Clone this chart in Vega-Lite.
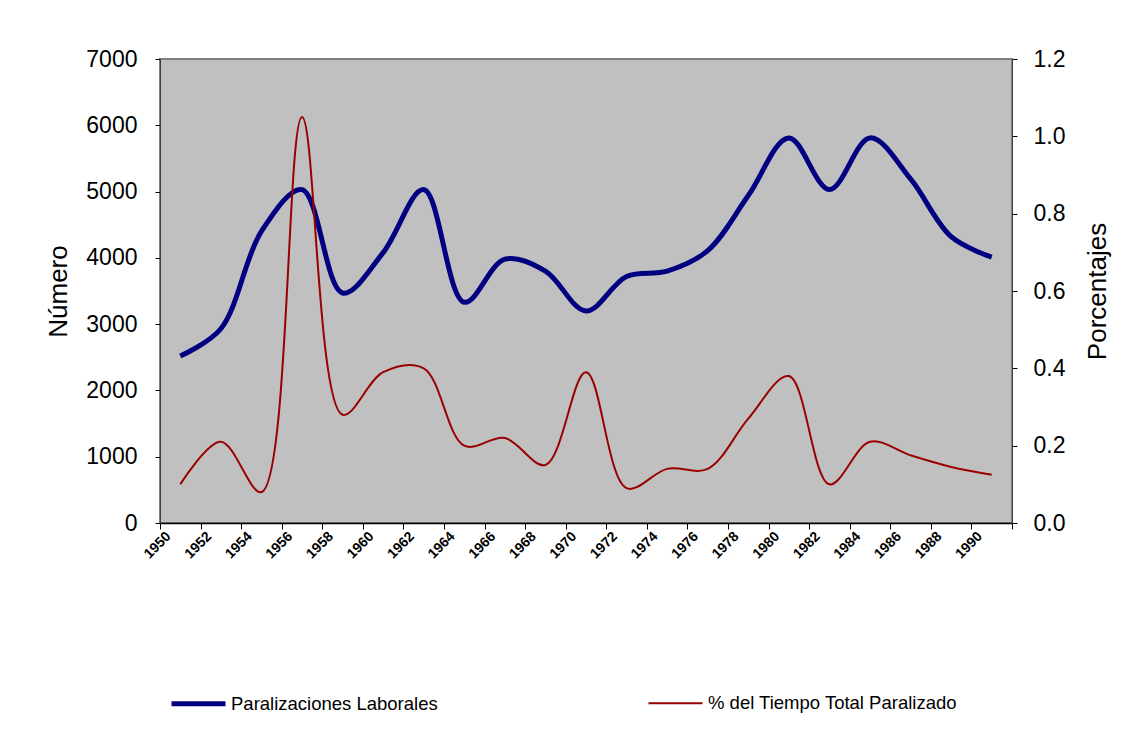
{
  "$schema": "https://vega.github.io/schema/vega-lite/v6.json",
  "width": 852,
  "height": 464,
  "autosize": {"type": "none"},
  "padding": {"left": 160, "top": 59, "right": 116, "bottom": 225},
  "background": "white",
  "config": {
    "font": "Liberation Sans",
    "view": {"fill": "#C0C0C0", "stroke": "#808080", "strokeWidth": 2},
    "axis": {
      "labelFont": "Liberation Sans",
      "titleFont": "Liberation Sans",
      "labelColor": "black",
      "titleColor": "black",
      "titleFontWeight": "normal",
      "grid": false,
      "domainColor": "black",
      "tickColor": "black"
    }
  },
  "datasets": {
    "paro": [
      {"anio": "1950", "serie": "Paralizaciones Laborales", "valor": 2520},
      {"anio": "1952", "serie": "Paralizaciones Laborales", "valor": 2930},
      {"anio": "1954", "serie": "Paralizaciones Laborales", "valor": 4400},
      {"anio": "1956", "serie": "Paralizaciones Laborales", "valor": 5030},
      {"anio": "1958", "serie": "Paralizaciones Laborales", "valor": 3470},
      {"anio": "1960", "serie": "Paralizaciones Laborales", "valor": 4080},
      {"anio": "1962", "serie": "Paralizaciones Laborales", "valor": 5030},
      {"anio": "1964", "serie": "Paralizaciones Laborales", "valor": 3330},
      {"anio": "1966", "serie": "Paralizaciones Laborales", "valor": 3980},
      {"anio": "1968", "serie": "Paralizaciones Laborales", "valor": 3800},
      {"anio": "1970", "serie": "Paralizaciones Laborales", "valor": 3200},
      {"anio": "1972", "serie": "Paralizaciones Laborales", "valor": 3720},
      {"anio": "1974", "serie": "Paralizaciones Laborales", "valor": 3800},
      {"anio": "1976", "serie": "Paralizaciones Laborales", "valor": 4110},
      {"anio": "1978", "serie": "Paralizaciones Laborales", "valor": 4940},
      {"anio": "1980", "serie": "Paralizaciones Laborales", "valor": 5810},
      {"anio": "1982", "serie": "Paralizaciones Laborales", "valor": 5030},
      {"anio": "1984", "serie": "Paralizaciones Laborales", "valor": 5810},
      {"anio": "1986", "serie": "Paralizaciones Laborales", "valor": 5190},
      {"anio": "1988", "serie": "Paralizaciones Laborales", "valor": 4320},
      {"anio": "1990", "serie": "Paralizaciones Laborales", "valor": 4010}
    ],
    "tiempo": [
      {"anio": "1950", "serie": "% del Tiempo Total Paralizado", "valor": 0.10},
      {"anio": "1952", "serie": "% del Tiempo Total Paralizado", "valor": 0.21},
      {"anio": "1954", "serie": "% del Tiempo Total Paralizado", "valor": 0.08},
      {"anio": "1956", "serie": "% del Tiempo Total Paralizado", "valor": 1.05},
      {"anio": "1958", "serie": "% del Tiempo Total Paralizado", "valor": 0.28},
      {"anio": "1960", "serie": "% del Tiempo Total Paralizado", "valor": 0.39},
      {"anio": "1962", "serie": "% del Tiempo Total Paralizado", "valor": 0.40},
      {"anio": "1964", "serie": "% del Tiempo Total Paralizado", "valor": 0.20},
      {"anio": "1966", "serie": "% del Tiempo Total Paralizado", "valor": 0.22},
      {"anio": "1968", "serie": "% del Tiempo Total Paralizado", "valor": 0.15},
      {"anio": "1970", "serie": "% del Tiempo Total Paralizado", "valor": 0.39},
      {"anio": "1972", "serie": "% del Tiempo Total Paralizado", "valor": 0.09},
      {"anio": "1974", "serie": "% del Tiempo Total Paralizado", "valor": 0.14},
      {"anio": "1976", "serie": "% del Tiempo Total Paralizado", "valor": 0.14},
      {"anio": "1978", "serie": "% del Tiempo Total Paralizado", "valor": 0.27},
      {"anio": "1980", "serie": "% del Tiempo Total Paralizado", "valor": 0.38},
      {"anio": "1982", "serie": "% del Tiempo Total Paralizado", "valor": 0.10},
      {"anio": "1984", "serie": "% del Tiempo Total Paralizado", "valor": 0.21},
      {"anio": "1986", "serie": "% del Tiempo Total Paralizado", "valor": 0.175},
      {"anio": "1988", "serie": "% del Tiempo Total Paralizado", "valor": 0.145},
      {"anio": "1990", "serie": "% del Tiempo Total Paralizado", "valor": 0.125}
    ]
  },
  "layer": [
    {
      "data": {"name": "paro"},
      "mark": {"type": "line", "interpolate": "catmull-rom"},
      "encoding": {
        "x": {
          "field": "anio",
          "type": "ordinal",
          "scale": {"type": "band", "paddingInner": 0, "paddingOuter": 0},
          "axis": {
            "title": null,
            "tickBand": "extent",
            "tickSize": 6,
            "labelAngle": -45,
            "labelAlign": "right",
            "labelBaseline": "middle",
            "labelFontSize": 14,
            "labelFontWeight": "bold",
            "labelPadding": 5,
            "labelOffset": -12,
            "labelOverlap": false,
            "domainWidth": 1.5
          }
        },
        "y": {
          "field": "valor",
          "type": "quantitative",
          "scale": {"domain": [0, 7000], "nice": false},
          "axis": {
            "orient": "left",
            "title": "Número",
            "values": [0, 1000, 2000, 3000, 4000, 5000, 6000, 7000],
            "format": "d",
            "labelFontSize": 23,
            "titleFontSize": 26,
            "tickSize": 5,
            "labelPadding": 18,
            "titlePadding": 14,
            "domainColor": "#404040"
          }
        },
        "color": {
          "field": "serie",
          "type": "nominal",
          "scale": {"domain": ["Paralizaciones Laborales", "% del Tiempo Total Paralizado"], "range": ["#000080", "#9A0000"]},
          "legend": {
            "orient": "none",
            "legendX": 9,
            "legendY": 615,
            "direction": "horizontal",
            "columns": 2,
            "title": null,
            "symbolType": "stroke",
            "symbolSize": 2916,
            "labelFont": "Liberation Sans",
            "labelFontSize": 18.5,
            "labelColor": "black",
            "labelOffset": 3,
            "labelLimit": 500,
            "columnPadding": 206
          }
        },
        "strokeWidth": {
          "field": "serie",
          "type": "nominal",
          "scale": {"domain": ["Paralizaciones Laborales", "% del Tiempo Total Paralizado"], "range": [5, 2]},
          "legend": {
            "orient": "none",
            "legendX": 9,
            "legendY": 615,
            "direction": "horizontal",
            "columns": 2,
            "title": null,
            "symbolType": "stroke",
            "symbolSize": 2916,
            "labelFont": "Liberation Sans",
            "labelFontSize": 18.5,
            "labelColor": "black",
            "labelOffset": 3,
            "labelLimit": 500,
            "columnPadding": 206
          }
        }
      }
    },
    {
      "data": {"name": "tiempo"},
      "mark": {"type": "line", "interpolate": "catmull-rom"},
      "encoding": {
        "x": {"field": "anio", "type": "ordinal"},
        "y": {
          "field": "valor",
          "type": "quantitative",
          "scale": {"domain": [0, 1.2], "nice": false},
          "axis": {
            "orient": "right",
            "title": "Porcentajes",
            "titleAngle": -90,
            "values": [0, 0.2, 0.4, 0.6, 0.8, 1.0, 1.2],
            "format": ".1f",
            "labelFontSize": 23,
            "titleFontSize": 26,
            "tickSize": 5,
            "labelPadding": 16,
            "titlePadding": 46,
            "domainColor": "#404040"
          }
        },
        "color": {"field": "serie", "type": "nominal"},
        "strokeWidth": {"field": "serie", "type": "nominal"}
      }
    }
  ],
  "resolve": {"scale": {"y": "independent"}}
}
